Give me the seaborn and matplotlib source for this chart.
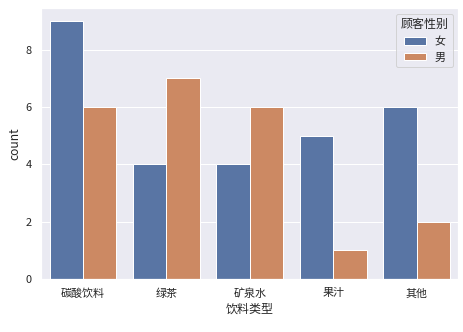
import matplotlib
matplotlib.use("Agg")
import matplotlib.pyplot as plt
import seaborn as sns
import pandas as pd

categories = ["碳酸饮料", "绿茶", "矿泉水", "果汁", "其他"]
female = [9, 4, 4, 5, 6]
male = [6, 7, 6, 1, 2]
genders = ["女", "男"]

rows = []
for c, f, m in zip(categories, female, male):
    rows += [{"饮料类型": c, "顾客性别": "女"}] * f
    rows += [{"饮料类型": c, "顾客性别": "男"}] * m
df = pd.DataFrame(rows)

sns.set_theme(style="darkgrid")
plt.rcParams['font.family'] = ['Noto Sans CJK SC', 'DejaVu Sans']
plt.rcParams['axes.unicode_minus'] = False

fig, ax = plt.subplots(figsize=(463/72, 332/72), dpi=72)
sns.countplot(data=df, x="饮料类型", hue="顾客性别", order=categories,
              hue_order=genders, ax=ax)
ax.set_ylabel("count")
fig.subplots_adjust(left=0.089, right=0.99, top=0.975, bottom=0.16)
fig.savefig("out.png", dpi=72)
